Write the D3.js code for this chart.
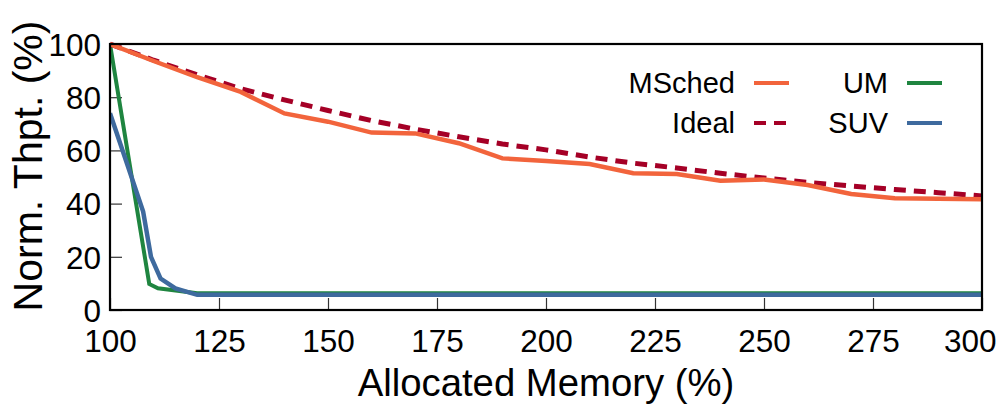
<!DOCTYPE html>
<html>
<head>
<meta charset="utf-8">
<script src="https://cdn.jsdelivr.net/npm/d3@7"></script>
<style>
  body { margin: 0; background: #fff; }
  text { font-family: "Liberation Sans", Arial, Helvetica, sans-serif; fill: #000; }
</style>
</head>
<body>
<svg id="chart" width="996" height="411"></svg>
<script>
// values
const memX = [100, 110, 120, 130, 140, 150, 160, 170, 180, 190, 200, 210, 220, 230, 240, 250, 260, 270, 280, 290, 300];
const mschedY = [100, 93.6, 87.5, 82.0, 73.9, 70.8, 66.7, 66.4, 62.7, 57.0, 56.0, 54.9, 51.4, 51.1, 48.6, 49.1, 47.0, 43.6, 42.0, 41.8, 41.6];
const idealY = [100, 93.9, 88.4, 83.2, 79.0, 75.0, 71.2, 68.0, 65.1, 62.4, 60.2, 57.5, 55.2, 53.4, 51.4, 49.6, 48.0, 46.6, 45.3, 44.1, 42.9];

const umX = [100, 109, 111, 120, 130, 140, 150, 160, 170, 180, 190, 200, 210, 220, 230, 240, 250, 260, 270, 280, 290, 300];
const umY = [100, 9.8, 8.2, 6.3, 6.3, 6.3, 6.3, 6.3, 6.3, 6.3, 6.3, 6.3, 6.3, 6.3, 6.3, 6.3, 6.3, 6.3, 6.3, 6.3, 6.3, 6.3];

const suvX = [100, 107.6, 109.4, 111.6, 115, 120, 130, 140, 150, 160, 170, 180, 190, 200, 210, 220, 230, 240, 250, 260, 270, 280, 290, 300];
const suvY = [74, 37, 20, 11.8, 8.1, 5.7, 5.7, 5.7, 5.7, 5.7, 5.7, 5.7, 5.7, 5.7, 5.7, 5.7, 5.7, 5.7, 5.7, 5.7, 5.7, 5.7, 5.7, 5.7];

const xTicks = [100, 125, 150, 175, 200, 225, 250, 275, 300];
const yTicks = [0, 20, 40, 60, 80, 100];

const series = [
  { name: "UM", xs: umX, ys: umY, color: "#1f8540", dash: null, width: 4 },
  { name: "SUV", xs: suvX, ys: suvY, color: "#3e6a9e", dash: null, width: 4.5 },
  { name: "Ideal", xs: memX, ys: idealY, color: "#a50026", dash: "12,8", width: 5 },
  { name: "MSched", xs: memX, ys: mschedY, color: "#f2643c", dash: null, width: 4.5 }
];

const svg = d3.select("#chart");
const margin = { top: 44, right: 14, bottom: 101, left: 110 };
const W = 996, H = 411;

const x = d3.scaleLinear().domain([100, 300]).range([margin.left, W - margin.right]);
const y = d3.scaleLinear().domain([0, 100]).range([H - margin.bottom, margin.top]);

svg.append("rect").attr("width", W).attr("height", H).attr("fill", "#fff");

// ticks point inward
const xAxis = svg.append("g")
  .attr("transform", `translate(0,${y(0)})`)
  .call(d3.axisBottom(x).tickValues(xTicks).tickSizeInner(-12).tickSizeOuter(0).tickPadding(20));
const yAxis = svg.append("g")
  .attr("transform", `translate(${x(100)},0)`)
  .call(d3.axisLeft(y).tickValues(yTicks).tickSizeInner(-12).tickSizeOuter(0).tickPadding(9));

[xAxis, yAxis].forEach(g => {
  g.select(".domain").remove();
  g.selectAll(".tick line").attr("stroke", "#333").attr("stroke-width", 1.2);
  g.selectAll(".tick text").attr("font-size", 31.5).attr("font-family", "Liberation Sans, Arial, sans-serif").attr("fill", "#000");
});
yAxis.selectAll(".tick text").attr("dy", "0.36em");
// last label sits against the right edge of the page
xAxis.selectAll(".tick text").filter(d => d === 300).attr("text-anchor", "end").attr("x", W - x(300));

const clip = svg.append("clipPath").attr("id", "plotclip")
  .append("rect")
  .attr("x", x(100)).attr("y", y(100) - 4)
  .attr("width", x(300) - x(100)).attr("height", y(0) - y(100) + 4);

const line = d3.line().x(d => x(d[0])).y(d => y(d[1]));

series.forEach(s => {
  const pts = s.xs.map((v, i) => [v, s.ys[i]]);
  svg.append("path")
    .datum(pts)
    .attr("clip-path", "url(#plotclip)")
    .attr("d", line)
    .attr("fill", "none")
    .attr("stroke", s.color)
    .attr("stroke-width", s.width)
    .attr("stroke-dasharray", s.dash)
    .attr("stroke-linejoin", "miter");
});

// frame
svg.append("rect")
  .attr("x", x(100)).attr("y", y(100))
  .attr("width", x(300) - x(100)).attr("height", y(0) - y(100))
  .attr("fill", "none").attr("stroke", "#000").attr("stroke-width", 2.2);

// legend, two columns
const legendItems = [
  { name: "MSched", col: 0, row: 0 },
  { name: "Ideal", col: 0, row: 1 },
  { name: "UM", col: 1, row: 0 },
  { name: "SUV", col: 1, row: 1 }
];
const colRight = [735, 888];
const rowY = [83, 123];
legendItems.forEach(it => {
  const s = series.find(d => d.name === it.name);
  const g = svg.append("g");
  g.append("text")
    .attr("x", colRight[it.col]).attr("y", rowY[it.row])
    .attr("dy", "0.36em").attr("text-anchor", "end")
    .attr("font-size", 29).text(it.name);
  g.append("line")
    .attr("x1", colRight[it.col] + 19).attr("x2", colRight[it.col] + 54)
    .attr("y1", rowY[it.row]).attr("y2", rowY[it.row])
    .attr("stroke", s.color).attr("stroke-width", 4)
    .attr("stroke-dasharray", s.dash);
});

// axis titles
svg.append("text")
  .attr("x", (x(100) + x(300)) / 2).attr("y", 396)
  .attr("text-anchor", "middle").attr("font-size", 38.3)
  .text("Allocated Memory (%)");
svg.append("text")
  .attr("transform", `translate(42,166) rotate(-90)`)
  .attr("text-anchor", "middle").attr("font-size", 41)
  .text("Norm. Thpt. (%)");
</script>
</body>
</html>
